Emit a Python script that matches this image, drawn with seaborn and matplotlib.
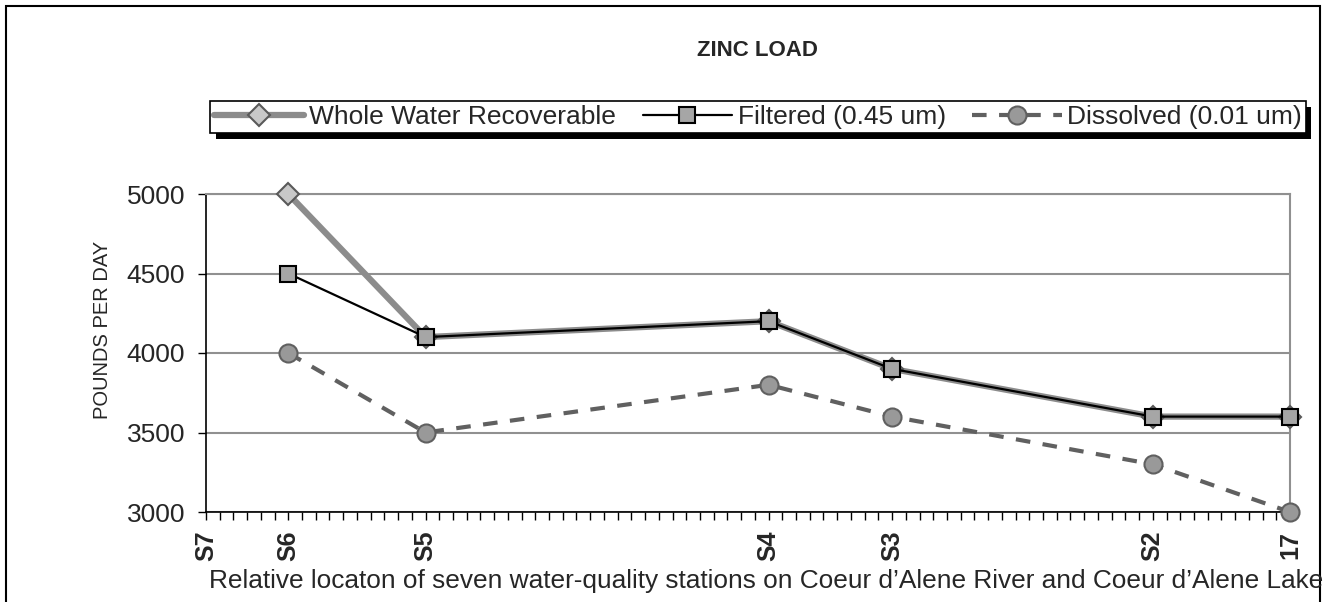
import numpy as np
import pandas as pd
import matplotlib.pyplot as plt
import matplotlib.patches as mpatches
import matplotlib.patheffects as pe
from matplotlib.ticker import MultipleLocator
import seaborn as sns

# Stations along the river (relative location) and tick labels
station_labels = ["S7", "S6", "S5", "S4", "S3", "S2", "17"]
station_loc = [0, 6, 16, 41, 50, 69, 79]

# Zinc load, pounds per day (no sample at S7)
sampled_loc = [6, 16, 41, 50, 69, 79]
whole_water = [5000, 4100, 4200, 3900, 3600, 3600]
filtered = [4500, 4100, 4200, 3900, 3600, 3600]
dissolved = [4000, 3500, 3800, 3600, 3300, 3000]

sns.set_style("white")
plt.rcParams['font.family'] = ['Liberation Sans', 'DejaVu Sans']

W, H = 1336, 602
fig = plt.figure(figsize=(W / 100, H / 100), dpi=100)
ax = fig.add_axes([206 / W, 1 - 512 / H, (1290 - 206) / W, (512 - 194) / H])

# Whole water: thick gray line, light diamonds
sns.lineplot(x=sampled_loc, y=whole_water, ax=ax, color='#8c8c8c', linewidth=4.5,
             marker='D', markersize=11, markerfacecolor='#c8c8c8', markeredgecolor='#595959',
             markeredgewidth=1.5, label='Whole Water Recoverable', legend=False,
             clip_on=False, zorder=3)
# Filtered: thin black line, gray squares
sns.lineplot(x=sampled_loc, y=filtered, ax=ax, color='black', linewidth=1.6,
             marker='s', markersize=11, markerfacecolor='#a6a6a6', markeredgecolor='black',
             markeredgewidth=1.5, label='Filtered (0.45 um)', legend=False,
             clip_on=False, zorder=4)
# Dissolved: dashed gray line, gray circles
sns.lineplot(x=sampled_loc, y=dissolved, ax=ax, color='#606060', linewidth=3,
             linestyle=(0, (3.5, 3)), marker='o', markersize=13,
             markerfacecolor='#999999', markeredgecolor='#606060', markeredgewidth=1.5,
             label='Dissolved (0.01 um)', legend=False, clip_on=False, zorder=3)

ax.set_xlim(0, 79)
ax.set_ylim(3000, 5000)
ax.set_yticks([3000, 3500, 4000, 4500, 5000])
ax.yaxis.grid(True, color='#909090', linewidth=1.5)
ax.set_axisbelow(True)

ax.set_xticks(station_loc)
ax.set_xticklabels(station_labels, rotation=90, fontweight='bold', fontsize=18)
ax.xaxis.set_minor_locator(MultipleLocator(1))
ax.tick_params(axis='x', which='both', direction='out', length=5.5, width=1,
               color='black', bottom=True, pad=8)
ax.tick_params(axis='y', which='major', direction='out', length=6, width=1,
               color='black', left=True, labelsize=19, pad=9)

for side in ['left', 'bottom']:
    ax.spines[side].set_color('black')
    ax.spines[side].set_linewidth(1.2)
for side in ['top', 'right']:
    ax.spines[side].set_color('#909090')
    ax.spines[side].set_linewidth(1.5)

ax.set_xlabel('')
ax.set_ylabel('')
fig.text(103 / W, 1 - 330 / H, 'POUNDS PER DAY', rotation=90, ha='center', va='center',
         fontsize=14.5)

fig.text(766 / W, 1 - 581 / H,
         'Relative locaton of seven water-quality stations on Coeur d\u2019Alene River and Coeur d\u2019Alene Lake',
         ha='center', va='center', fontsize=18.9)
fig.text(757 / W, 1 - 50 / H, 'ZINC LOAD', ha='center', va='center',
         fontsize=16, fontweight='bold')

handles, labels = ax.get_legend_handles_labels()
leg = fig.legend(handles, labels, loc='center', bbox_to_anchor=(758 / W, 1 - 117 / H),
                 ncol=3, fontsize=19, frameon=True, fancybox=False, framealpha=1,
                 edgecolor='black', handlelength=3.4, handletextpad=0.2,
                 columnspacing=1.0, borderpad=0.15, borderaxespad=0)
leg.get_frame().set_linewidth(1.2)
leg.get_frame().set_path_effects([
    pe.SimplePatchShadow(offset=(4, -4), shadow_rgbFace='black', alpha=1),
    pe.Normal()])

# outer chart frame (open at the bottom)
fig.patches.append(mpatches.Rectangle((6 / W, -0.1), (1320 - 6) / W, 0.1 + (H - 6) / H,
                                      transform=fig.transFigure, fill=False,
                                      edgecolor='black', linewidth=1.5))

fig.savefig('out.png', dpi=100)
